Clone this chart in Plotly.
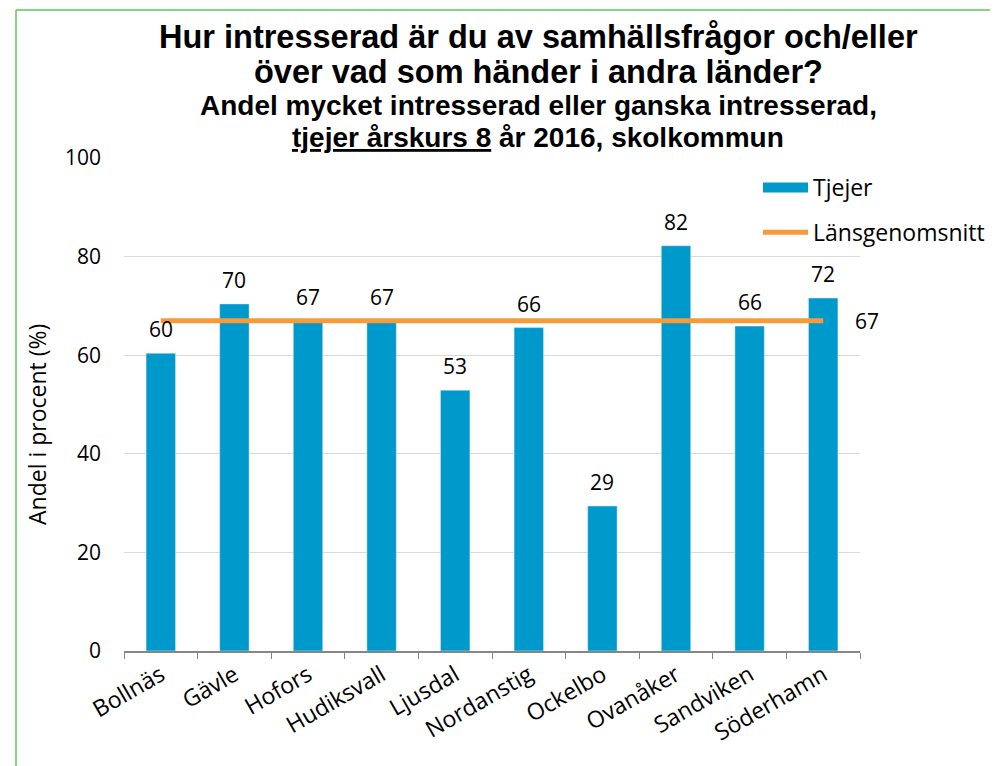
import plotly.graph_objects as go

kommuner = ["Bollnäs", "Gävle", "Hofors", "Hudiksvall", "Ljusdal", "Nordanstig",
            "Ockelbo", "Ovanåker", "Sandviken", "Söderhamn"]
tjejer = [60.4, 70.4, 66.9, 66.9, 52.9, 65.6, 29.4, 82.2, 65.9, 71.6]
lansgenomsnitt = [67] * len(kommuner)
y_ticks = [0, 20, 40, 60, 80, 100]

FONT = "Open Sans"
TFONT = "Liberation Sans, Arial"
BAR_COLOR = "#0099CC"
LINE_COLOR = "#F79A3A"

# figure is placed 8px inside the page (default body margin)
FIG_W, FIG_H = 990, 758
L, R, T, B = 116, 852, 150, 643
W, H = R - L, B - T
def px(x):
    return (x - L) / W
def py(y):
    return (B - y) / H

fig = go.Figure()
fig.add_trace(go.Bar(
    x=kommuner, y=tjejer, name="Tjejer", marker_color=BAR_COLOR,
    showlegend=False,
))
# legend entry for the bars (wide rectangle like the original)
fig.add_trace(go.Scatter(
    x=[None], y=[None], name="Tjejer", mode="lines",
    line=dict(color=BAR_COLOR, width=16), legendgroup="a",
))
fig.add_trace(go.Scatter(
    x=kommuner, y=lansgenomsnitt, name="Länsgenomsnitt", mode="lines",
    line=dict(color=LINE_COLOR, width=5), legendgroup="b",
))

annotations = []
for k, v in zip(kommuner, tjejer):
    annotations.append(dict(x=k, y=v, xref="x", yref="y", text=f"{v:.0f}",
                            showarrow=False, yanchor="bottom", yshift=8,
                            font=dict(family=FONT, size=21, color="#000000")))
annotations.append(dict(x=kommuner[-1], y=lansgenomsnitt[-1], xref="x", yref="y",
                        text=f"{lansgenomsnitt[-1]:.0f}", showarrow=False,
                        xanchor="left", xshift=30,
                        font=dict(family=FONT, size=21, color="#000000")))

title_lines = [
    ("<b>Hur intresserad är du av samhällsfrågor och/eller</b>", 32.5, 29),
    ("<b>över vad som händer i andra länder?</b>", 32.5, 64),
    ("<b>Andel mycket intresserad eller ganska intresserad,</b>", 28, 97),
    ("<b><u>tjejer årskurs 8</u> år 2016, skolkommun</b>", 28, 129),
]
for txt, size, ypix in title_lines:
    annotations.append(dict(x=px(530), y=py(ypix), xref="paper", yref="paper",
                            text=txt, showarrow=False, xanchor="center", yanchor="middle",
                            font=dict(family=TFONT, size=size, color="#000000")))
# y-axis title
annotations.append(dict(x=px(29), y=py(417), xref="paper", yref="paper",
                        text="Andel i procent (%)", textangle=-90, showarrow=False,
                        xanchor="center", yanchor="middle",
                        font=dict(family=FONT, size=23, color="#000000")))

fig.update_layout(
    width=FIG_W, height=FIG_H,
    margin=dict(l=L, r=FIG_W - R, t=T, b=FIG_H - B, autoexpand=False),
    paper_bgcolor="white", plot_bgcolor="white",
    font=dict(family=FONT, size=21, color="#000000"),
    bargap=0.6,
    showlegend=True,
    legend=dict(x=px(750), y=py(158), xanchor="left", yanchor="top",
                font=dict(family=FONT, size=23, color="#000000"),
                traceorder="grouped", tracegroupgap=12, itemwidth=45,
                bgcolor="rgba(0,0,0,0)"),
    annotations=annotations,
    shapes=[
        dict(type="line", xref="paper", yref="paper", x0=px(8), x1=px(1000),
             y0=py(2), y1=py(2), line=dict(color="#5CC85A", width=1.5)),
        dict(type="line", xref="paper", yref="paper", x0=px(8), x1=px(8),
             y0=py(2), y1=py(770), line=dict(color="#5CC85A", width=1.5)),
    ],
)
fig.update_yaxes(
    range=[0, 100], tickvals=y_ticks, showgrid=True, gridcolor="#D9D9D9", gridwidth=1,
    zeroline=False, showline=False, ticks="", ticklabelstandoff=22,
    tickfont=dict(family=FONT, size=21), automargin=False,
)
fig.update_xaxes(
    range=[-0.5, len(kommuner) - 0.5], autorange=False,
    showline=True, linecolor="#868686", linewidth=1.5, ticks="outside",
    tickson="boundaries", ticklen=6, tickcolor="#868686", tickangle=-30,
    tickfont=dict(family=FONT, size=23), showgrid=False, automargin=False,
)

fig.write_html("out.html")
